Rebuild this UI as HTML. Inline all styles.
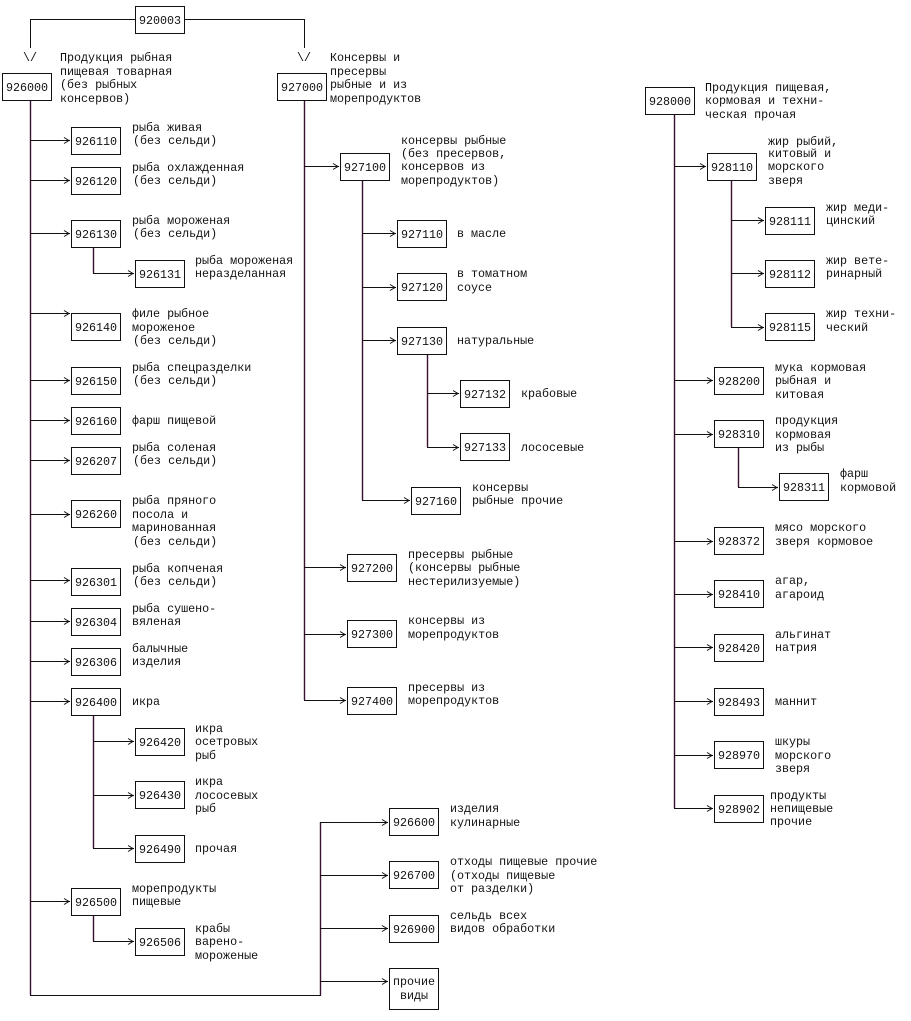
<!DOCTYPE html>
<html><head><meta charset="utf-8"><style>
html,body{margin:0;padding:0;background:#fff;}
svg{display:block}
text{font-family:"Liberation Mono","DejaVu Sans Mono",monospace;font-size:11.7px;fill:#111;}
.c{text-anchor:middle}
rect{fill:#fff;stroke:#111;stroke-width:1}
path,line,polyline{stroke:#111;stroke-width:1;fill:none}
.v{stroke:#3a1030;stroke-width:1.4}
</style></head><body>
<svg width="911" height="1021" viewBox="0 0 911 1021" xmlns="http://www.w3.org/2000/svg">
<!-- top -->
<path d="M30.5 48 V19.5 H135 M184 19.5 H304.5 V48"/>
<text class="c" x="30" y="61">\/</text>
<text class="c" x="304" y="61">\/</text>
<!-- trunks -->
<line class="v" x1="30.5" y1="100" x2="30.5" y2="995"/>
<path d="M30 995.5 H320.5 V822"/>
<line class="v" x1="320.5" y1="822" x2="320.5" y2="995"/>
<line class="v" x1="304.5" y1="100" x2="304.5" y2="700"/>
<line class="v" x1="674.5" y1="114" x2="674.5" y2="808"/>
<line class="v" x1="93.5" y1="247" x2="93.5" y2="273"/>
<line class="v" x1="93.5" y1="714" x2="93.5" y2="848"/>
<line class="v" x1="93.5" y1="915" x2="93.5" y2="941"/>
<line class="v" x1="362.5" y1="180" x2="362.5" y2="500"/>
<line class="v" x1="427.5" y1="353" x2="427.5" y2="447"/>
<line class="v" x1="731.5" y1="180" x2="731.5" y2="327"/>
<line class="v" x1="738.5" y1="447" x2="738.5" y2="487"/>
<!-- arrows: horizontal lines + heads -->
<g>
<path d="M30 140.5H70M30 180.5H70M30 233.5H70M30 313.5H70M30 380.5H70M30 420.5H70M30 460.5H70M30 514.5H70M30 580.5H70M30 621.5H70M30 661.5H70M30 701.5H70M30 901.5H70"/>
<path d="M64 137.5l5 3-5 3M64 177.5l5 3-5 3M64 230.5l5 3-5 3M64 310.5l5 3-5 3M64 377.5l5 3-5 3M64 417.5l5 3-5 3M64 457.5l5 3-5 3M64 511.5l5 3-5 3M64 577.5l5 3-5 3M64 618.5l5 3-5 3M64 658.5l5 3-5 3M64 698.5l5 3-5 3M64 898.5l5 3-5 3"/>
<path d="M93 273.5H134M93 741.5H134M93 795.5H134M93 848.5H134M93 941.5H134"/>
<path d="M128 270.5l5 3-5 3M128 738.5l5 3-5 3M128 792.5l5 3-5 3M128 845.5l5 3-5 3M128 938.5l5 3-5 3"/>
<path d="M320 822.5H388M320 875.5H388M320 928.5H388M320 981.5H388"/>
<path d="M382 819.5l5 3-5 3M382 872.5l5 3-5 3M382 925.5l5 3-5 3M382 978.5l5 3-5 3"/>
<path d="M304 166.5H339M304 567.5H346M304 634.5H346M304 700.5H346"/>
<path d="M333 163.5l5 3-5 3M340 564.5l5 3-5 3M340 631.5l5 3-5 3M340 697.5l5 3-5 3"/>
<path d="M362 233.5H396M362 287.5H396M362 340.5H396M362 500.5H410"/>
<path d="M390 230.5l5 3-5 3M390 284.5l5 3-5 3M390 337.5l5 3-5 3M404 497.5l5 3-5 3"/>
<path d="M427 393.5H459M427 447.5H459"/>
<path d="M453 390.5l5 3-5 3M453 444.5l5 3-5 3"/>
<path d="M674 166.5H706M674 380.5H713M674 434.5H713M674 541.5H713M674 594.5H713M674 647.5H713M674 701.5H713M674 755.5H713M674 808.5H713"/>
<path d="M700 163.5l5 3-5 3M707 377.5l5 3-5 3M707 431.5l5 3-5 3M707 538.5l5 3-5 3M707 591.5l5 3-5 3M707 644.5l5 3-5 3M707 698.5l5 3-5 3M707 752.5l5 3-5 3M707 805.5l5 3-5 3"/>
<path d="M731 220.5H764M731 273.5H764M731 327.5H764M738 487.5H778"/>
<path d="M758 217.5l5 3-5 3M758 270.5l5 3-5 3M758 324.5l5 3-5 3M772 484.5l5 3-5 3"/>
</g>
<!-- boxes -->
<g>
<rect x="135.5" y="6.5" width="49" height="27"/><text class="c" x="160" y="24">920003</text>
<rect x="2.5" y="73.5" width="49" height="27"/><text class="c" x="27" y="91">926000</text>
<rect x="277.5" y="73.5" width="49" height="27"/><text class="c" x="302" y="91">927000</text>
<rect x="645.5" y="87.5" width="49" height="27"/><text class="c" x="670" y="105">928000</text>

<rect x="71.5" y="127.5" width="49" height="27"/><text class="c" x="96" y="145">926110</text>
<rect x="71.5" y="167.5" width="49" height="27"/><text class="c" x="96" y="185">926120</text>
<rect x="71.5" y="220.5" width="49" height="27"/><text class="c" x="96" y="238">926130</text>
<rect x="71.5" y="313.5" width="49" height="27"/><text class="c" x="96" y="331">926140</text>
<rect x="71.5" y="367.5" width="49" height="27"/><text class="c" x="96" y="385">926150</text>
<rect x="71.5" y="407.5" width="49" height="27"/><text class="c" x="96" y="425">926160</text>
<rect x="71.5" y="447.5" width="49" height="27"/><text class="c" x="96" y="465">926207</text>
<rect x="71.5" y="500.5" width="49" height="27"/><text class="c" x="96" y="518">926260</text>
<rect x="71.5" y="568.5" width="49" height="27"/><text class="c" x="96" y="586">926301</text>
<rect x="71.5" y="608.5" width="49" height="27"/><text class="c" x="96" y="626">926304</text>
<rect x="71.5" y="648.5" width="49" height="27"/><text class="c" x="96" y="666">926306</text>
<rect x="71.5" y="688.5" width="49" height="27"/><text class="c" x="96" y="706">926400</text>
<rect x="71.5" y="888.5" width="49" height="27"/><text class="c" x="96" y="906">926500</text>

<rect x="135.5" y="260.5" width="49" height="27"/><text class="c" x="160" y="278">926131</text>
<rect x="135.5" y="728.5" width="49" height="27"/><text class="c" x="160" y="746">926420</text>
<rect x="135.5" y="781.5" width="49" height="27"/><text class="c" x="160" y="799">926430</text>
<rect x="135.5" y="835.5" width="49" height="27"/><text class="c" x="160" y="853">926490</text>
<rect x="135.5" y="928.5" width="49" height="27"/><text class="c" x="160" y="946">926506</text>

<rect x="389.5" y="808.5" width="49" height="27"/><text class="c" x="414" y="826">926600</text>
<rect x="389.5" y="861.5" width="49" height="27"/><text class="c" x="414" y="879">926700</text>
<rect x="389.5" y="915.5" width="49" height="27"/><text class="c" x="414" y="933">926900</text>
<rect x="389.5" y="968.5" width="49" height="41"/><text class="c" x="414" y="985">прочие</text><text class="c" x="414" y="999">виды</text>

<rect x="340.5" y="153.5" width="49" height="27"/><text class="c" x="365" y="171">927100</text>
<rect x="397.5" y="220.5" width="49" height="27"/><text class="c" x="422" y="238">927110</text>
<rect x="397.5" y="273.5" width="49" height="27"/><text class="c" x="422" y="291">927120</text>
<rect x="397.5" y="327.5" width="49" height="27"/><text class="c" x="422" y="345">927130</text>
<rect x="460.5" y="380.5" width="49" height="27"/><text class="c" x="485" y="398">927132</text>
<rect x="460.5" y="433.5" width="49" height="27"/><text class="c" x="485" y="451">927133</text>
<rect x="411.5" y="487.5" width="49" height="27"/><text class="c" x="436" y="505">927160</text>
<rect x="347.5" y="554.5" width="49" height="27"/><text class="c" x="372" y="572">927200</text>
<rect x="347.5" y="620.5" width="49" height="27"/><text class="c" x="372" y="638">927300</text>
<rect x="347.5" y="687.5" width="49" height="27"/><text class="c" x="372" y="705">927400</text>

<rect x="707.5" y="153.5" width="49" height="27"/><text class="c" x="732" y="171">928110</text>
<rect x="765.5" y="207.5" width="49" height="27"/><text class="c" x="790" y="225">928111</text>
<rect x="765.5" y="260.5" width="49" height="27"/><text class="c" x="790" y="278">928112</text>
<rect x="765.5" y="313.5" width="49" height="27"/><text class="c" x="790" y="331">928115</text>
<rect x="714.5" y="367.5" width="49" height="27"/><text class="c" x="739" y="385">928200</text>
<rect x="714.5" y="420.5" width="49" height="27"/><text class="c" x="739" y="438">928310</text>
<rect x="779.5" y="473.5" width="49" height="27"/><text class="c" x="804" y="491">928311</text>
<rect x="714.5" y="527.5" width="49" height="27"/><text class="c" x="739" y="545">928372</text>
<rect x="714.5" y="580.5" width="49" height="27"/><text class="c" x="739" y="598">928410</text>
<rect x="714.5" y="634.5" width="49" height="27"/><text class="c" x="739" y="652">928420</text>
<rect x="714.5" y="688.5" width="49" height="27"/><text class="c" x="739" y="706">928493</text>
<rect x="714.5" y="741.5" width="49" height="27"/><text class="c" x="739" y="759">928970</text>
<rect x="714.5" y="795.5" width="49" height="27"/><text class="c" x="739" y="813">928902</text>
</g>
<!-- labels -->
<g>
<text x="60" y="61">Продукция рыбная</text><text x="60" y="75">пищевая товарная</text><text x="60" y="88">(без рыбных</text><text x="60" y="102">консервов)</text>
<text x="330" y="61">Консервы и</text><text x="330" y="75">пресервы</text><text x="330" y="88">рыбные и из</text><text x="330" y="102">морепродуктов</text>
<text x="705" y="91">Продукция пищевая,</text><text x="705" y="104">кормовая и техни-</text><text x="705" y="118">ческая прочая</text>

<text x="132" y="131">рыба живая</text><text x="133" y="144">(без сельди)</text>
<text x="132" y="171">рыба охлажденная</text><text x="133" y="184">(без сельди)</text>
<text x="132" y="224">рыба мороженая</text><text x="133" y="237">(без сельди)</text>
<text x="195" y="264">рыба мороженая</text><text x="195" y="277">неразделанная</text>
<text x="132" y="317">филе рыбное</text><text x="132" y="331">мороженое</text><text x="133" y="344">(без сельди)</text>
<text x="132" y="371">рыба спецразделки</text><text x="133" y="384">(без сельди)</text>
<text x="132" y="424">фарш пищевой</text>
<text x="132" y="451">рыба соленая</text><text x="133" y="464">(без сельди)</text>
<text x="132" y="504">рыба пряного</text><text x="132" y="518">посола и</text><text x="132" y="531">маринованная</text><text x="133" y="545">(без сельди)</text>
<text x="132" y="572">рыба копченая</text><text x="133" y="585">(без сельди)</text>
<text x="132" y="612">рыба сушено-</text><text x="132" y="625">вяленая</text>
<text x="132" y="652">балычные</text><text x="132" y="665">изделия</text>
<text x="132" y="705">икра</text>
<text x="195" y="732">икра</text><text x="195" y="745">осетровых</text><text x="195" y="759">рыб</text>
<text x="195" y="785">икра</text><text x="195" y="799">лососевых</text><text x="195" y="812">рыб</text>
<text x="195" y="852">прочая</text>
<text x="132" y="892">морепродукты</text><text x="132" y="905">пищевые</text>
<text x="195" y="932">крабы</text><text x="195" y="945">варено-</text><text x="195" y="959">мороженые</text>

<text x="450" y="812">изделия</text><text x="450" y="826">кулинарные</text>
<text x="450" y="865">отходы пищевые прочие</text><text x="450" y="879">(отходы пищевые</text><text x="450" y="892">от разделки)</text>
<text x="450" y="919">сельдь всех</text><text x="450" y="932">видов обработки</text>

<text x="401" y="144">консервы рыбные</text><text x="401" y="157">(без пресервов,</text><text x="401" y="170">консервов из</text><text x="401" y="184">морепродуктов)</text>
<text x="457" y="237">в масле</text>
<text x="457" y="277">в томатном</text><text x="457" y="291">соусе</text>
<text x="457" y="344">натуральные</text>
<text x="521" y="397">крабовые</text>
<text x="521" y="451">лососевые</text>
<text x="472" y="491">консервы</text><text x="472" y="504">рыбные прочие</text>
<text x="408" y="558">пресервы рыбные</text><text x="408" y="571">(консервы рыбные</text><text x="408" y="585">нестерилизуемые)</text>
<text x="408" y="624">консервы из</text><text x="408" y="638">морепродуктов</text>
<text x="408" y="691">пресервы из</text><text x="408" y="704">морепродуктов</text>

<text x="768" y="145">жир рыбий,</text><text x="768" y="157">китовый и</text><text x="768" y="170">морского</text><text x="768" y="184">зверя</text>
<text x="826" y="211">жир меди-</text><text x="826" y="224">цинский</text>
<text x="826" y="264">жир вете-</text><text x="826" y="277">ринарный</text>
<text x="826" y="317">жир техни-</text><text x="826" y="331">ческий</text>
<text x="775" y="371">мука кормовая</text><text x="775" y="384">рыбная и</text><text x="775" y="398">китовая</text>
<text x="775" y="424">продукция</text><text x="775" y="438">кормовая</text><text x="775" y="451">из рыбы</text>
<text x="840" y="477">фарш</text><text x="840" y="491">кормовой</text>
<text x="775" y="531">мясо морского</text><text x="775" y="545">зверя кормовое</text>
<text x="775" y="584">агар,</text><text x="775" y="598">агароид</text>
<text x="775" y="638">альгинат</text><text x="775" y="651">натрия</text>
<text x="775" y="705">маннит</text>
<text x="775" y="745">шкуры</text><text x="775" y="759">морского</text><text x="775" y="772">зверя</text>
<text x="770" y="799">продукты</text><text x="770" y="812">непищевые</text><text x="770" y="825">прочие</text>
</g>
</svg>
</body></html>
